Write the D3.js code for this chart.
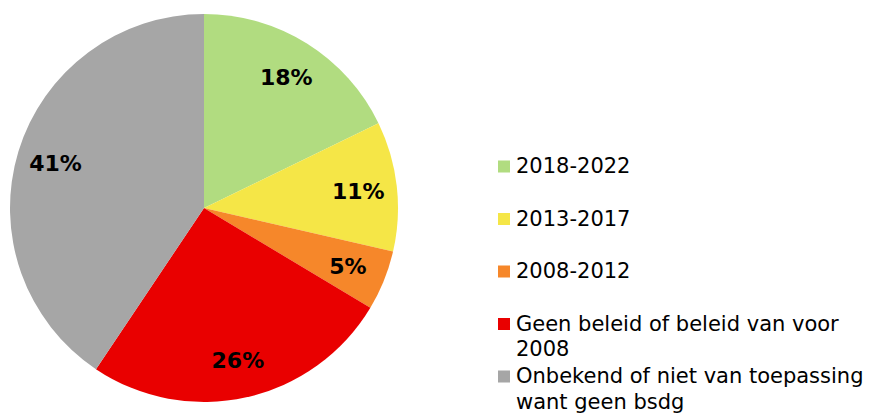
<!DOCTYPE html>
<html>
<head>
<meta charset="utf-8">
<script src="https://cdn.jsdelivr.net/npm/d3@7"></script>
<style>
  body { margin: 0; background: #fff; }
</style>
</head>
<body>
<script>
const width = 871,
  height = 415;

// data (share of total, %)
const categories = [
  "2018-2022",
  "2013-2017",
  "2008-2012",
  "Geen beleid of beleid van voor 2008",
  "Onbekend of niet van toepassing want geen bsdg"
];
const values = [17.8, 10.8, 5.0, 25.8, 40.6];
const colors = ["#b1dc80", "#f5e647", "#f6872a", "#e90000", "#a6a6a6"];

const data = categories.map((c, i) => ({ name: c, value: values[i], color: colors[i] }));
const total = d3.sum(values);

const cx = 204,
  cy = 208,
  radius = 194;

const svg = d3
  .select("body")
  .append("svg")
  .attr("width", width)
  .attr("height", height)
  .style("font-family", "'DejaVu Sans', Verdana, sans-serif");

const pie = d3.pie().value(d => d.value).sort(null);
const arc = d3.arc().innerRadius(0).outerRadius(radius);
const labelArc = d3.arc().innerRadius(radius * 0.8).outerRadius(radius * 0.8);

const pieG = svg.append("g").attr("transform", `translate(${cx}, ${cy})`);

const slices = pieG
  .selectAll("g")
  .data(pie(data))
  .enter()
  .append("g");

slices
  .append("path")
  .attr("d", arc)
  .attr("fill", d => d.data.color);

slices
  .append("text")
  .attr("transform", d => `translate(${labelArc.centroid(d)})`)
  .attr("text-anchor", "middle")
  .attr("dy", "0.38em")
  .attr("font-size", 22)
  .attr("font-weight", "bold")
  .attr("fill", "#000")
  .text(d => Math.round((d.data.value / total) * 100) + "%");

// legend
const legendX = 498,
  firstBaseline = 173,
  rowStep = 52.5,
  lineHeight = 25.5,
  maxTextWidth = 354;

const legend = svg.append("g").attr("class", "legend");

data.forEach((d, i) => {
  const base = firstBaseline + i * rowStep;
  legend
    .append("rect")
    .attr("x", legendX)
    .attr("y", base - 12.5)
    .attr("width", 12)
    .attr("height", 12)
    .attr("fill", d.color);

  const text = legend
    .append("text")
    .attr("x", legendX + 18)
    .attr("y", base)
    .attr("font-size", 21)
    .attr("fill", "#000");

  // simple word wrap
  const words = d.name.split(" ");
  let line = [];
  let tspan = text.append("tspan").attr("x", legendX + 18).attr("y", base);
  let lineNo = 0;
  words.forEach(w => {
    line.push(w);
    tspan.text(line.join(" "));
    if (tspan.node().getComputedTextLength() > maxTextWidth && line.length > 1) {
      line.pop();
      tspan.text(line.join(" "));
      line = [w];
      lineNo++;
      tspan = text
        .append("tspan")
        .attr("x", legendX + 18)
        .attr("y", base + lineNo * lineHeight)
        .text(w);
    }
  });
});
</script>
</body>
</html>
